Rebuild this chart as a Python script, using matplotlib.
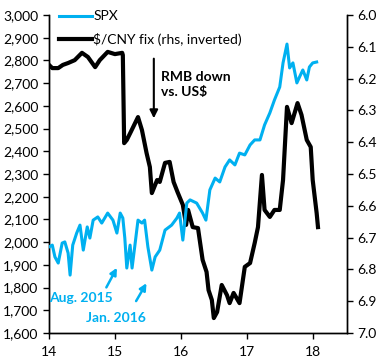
import matplotlib.pyplot as plt
from matplotlib.ticker import FuncFormatter

plt.rcParams['font.family'] = ['Lato', 'DejaVu Sans']

# %% Data (x in years since 2000)

spx_t = [14.00, 14.05, 14.09, 14.14, 14.20, 14.24, 14.29, 14.32, 14.36, 14.42,
         14.47, 14.52, 14.58, 14.62, 14.67, 14.74, 14.80, 14.89, 14.97, 15.03,
         15.08, 15.12, 15.15, 15.18, 15.23, 15.26, 15.30, 15.35, 15.41, 15.45,
         15.50, 15.56, 15.61, 15.68, 15.76, 15.86, 15.94, 15.98, 16.03, 16.09,
         16.14, 16.24, 16.33, 16.38, 16.44, 16.52, 16.59, 16.67, 16.74, 16.82,
         16.89, 16.97, 17.05, 17.12, 17.20, 17.27, 17.35, 17.42, 17.50, 17.55,
         17.61, 17.65, 17.70, 17.76, 17.80, 17.85, 17.91, 17.95, 18.00, 18.06]
spx = [1979, 1987, 1935, 1908, 1996, 2001, 1952, 1855, 1987, 2040,
       2075, 1965, 2067, 2018, 2097, 2111, 2084, 2128, 2097, 2040,
       2128, 2106, 2018, 1886, 1987, 1886, 1979, 2097, 2084, 2097,
       1979, 1877, 1935, 1965, 2053, 2075, 2106, 2128, 2009, 2172,
       2186, 2172, 2128, 2097, 2230, 2282, 2265, 2331, 2362, 2340,
       2392, 2384, 2428, 2450, 2450, 2516, 2569, 2626, 2683, 2789,
       2872, 2767, 2789, 2701, 2727, 2758, 2714, 2771, 2789, 2793]

cny_t = [14.00, 14.05, 14.14, 14.21, 14.29, 14.39, 14.50, 14.59, 14.70, 14.77,
         14.89, 15.00, 15.11, 15.12, 15.14, 15.18, 15.24, 15.35, 15.41, 15.48,
         15.53, 15.56, 15.64, 15.68, 15.76, 15.83, 15.89, 15.95, 16.03, 16.08,
         16.11, 16.18, 16.26, 16.33, 16.39, 16.42, 16.47, 16.50, 16.55, 16.62,
         16.70, 16.74, 16.80, 16.89, 16.97, 17.05, 17.12, 17.17, 17.23, 17.27,
         17.35, 17.42, 17.50, 17.55, 17.61, 17.68, 17.77, 17.83, 17.91, 17.97,
         18.00, 18.06, 18.08]
cny = [6.157, 6.167, 6.167, 6.157, 6.151, 6.142, 6.119, 6.132, 6.164, 6.142,
       6.116, 6.123, 6.119, 6.126, 6.403, 6.393, 6.368, 6.321, 6.362, 6.434,
       6.478, 6.560, 6.519, 6.525, 6.465, 6.462, 6.525, 6.557, 6.597, 6.660,
       6.613, 6.667, 6.670, 6.770, 6.808, 6.865, 6.896, 6.953, 6.934, 6.849,
       6.881, 6.906, 6.874, 6.906, 6.792, 6.780, 6.717, 6.667, 6.503, 6.613,
       6.635, 6.613, 6.613, 6.519, 6.289, 6.340, 6.277, 6.314, 6.393, 6.415,
       6.519, 6.623, 6.667]

x_ticks = [14, 15, 16, 17, 18]
spx_ticks = list(range(1600, 3001, 100))
cny_ticks = [6.0, 6.1, 6.2, 6.3, 6.4, 6.5, 6.6, 6.7, 6.8, 6.9, 7.0]

blue = '#00B0F0'

# %% Plotting

fig = plt.figure(figsize=(3.84, 3.63), dpi=100)
ax = fig.add_axes([0.1276, 0.0826, 0.776, 0.8761])
ax2 = ax.twinx()

l1, = ax.plot(spx_t, spx, color=blue, lw=2.2, label='SPX', zorder=3)
l2, = ax2.plot(cny_t, cny, color='black', lw=3.0, label=r'\$/CNY fix (rhs, inverted)')

ax.set_xlim(14, 18.52)
ax.set_ylim(1600, 3000)
ax2.set_ylim(7.0, 6.0)
ax.set_zorder(ax2.get_zorder() + 1)
ax.patch.set_visible(False)

ax.set_xticks(x_ticks)
ax.set_yticks(spx_ticks)
ax.yaxis.set_major_formatter(FuncFormatter(lambda v, p: f'{int(v):,}'))
ax2.set_yticks(cny_ticks)
ax2.yaxis.set_major_formatter(FuncFormatter(lambda v, p: f'{v:.1f}'))

for a in (ax, ax2):
    a.spines['top'].set_visible(False)
    a.tick_params(direction='out', length=4, width=1, labelsize=10)
    for s in a.spines.values():
        s.set_linewidth(1)
ax.tick_params(axis='x', pad=5)

ax.legend(handles=[l1, l2], loc='upper left', bbox_to_anchor=(0.0, 1.045),
          frameon=False, fontsize=10, handlelength=2.4, handletextpad=0.1,
          labelspacing=0.75, borderaxespad=0.3)

# annotations
ax.annotate('', xy=(15.59, 2533), xytext=(15.59, 2820),
            arrowprops=dict(arrowstyle='-|>', color='black', lw=1.5,
                            mutation_scale=12))
ax.text(15.7, 2695, 'RMB down\nvs. US\\$', fontsize=10, fontweight='bold',
        va='center', ha='left', linespacing=1.35)

ax.annotate('', xy=(15.05, 1898), xytext=(14.85, 1790),
            arrowprops=dict(arrowstyle='-|>', color=blue, lw=1.8,
                            mutation_scale=10))
ax.text(14.0, 1752, 'Aug. 2015', color=blue, fontsize=10, fontweight='bold',
        va='center', ha='left')
ax.annotate('', xy=(15.5, 1830), xytext=(15.3, 1730),
            arrowprops=dict(arrowstyle='-|>', color=blue, lw=1.8,
                            mutation_scale=10))
ax.text(14.56, 1665, 'Jan. 2016', color=blue, fontsize=10, fontweight='bold',
        va='center', ha='left')

plt.savefig('out.png', dpi=100)
